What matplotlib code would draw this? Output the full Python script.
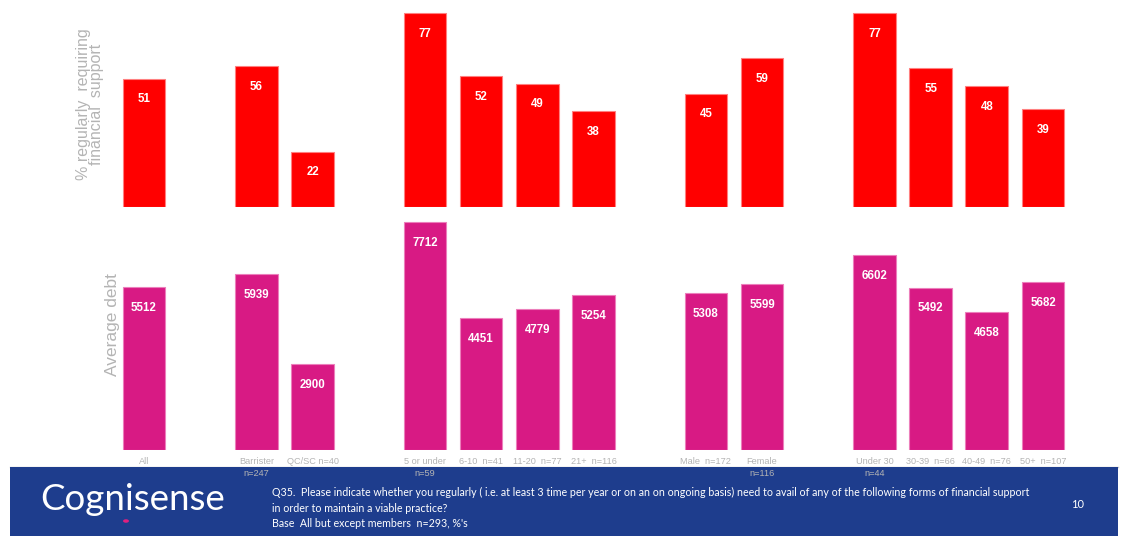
"""Financial support and average debt by member group."""

import matplotlib

matplotlib.use("Agg")
import matplotlib.pyplot as plt
from matplotlib.patches import Rectangle

categories = [
    "All", "Barrister\nn=247", "QC/SC n=40",
    "5 or under\nn=59", "6-10  n=41", "11-20  n=77", "21+  n=116",
    "Male  n=172", "Female\nn=116",
    "Under 30\nn=44", "30-39  n=66", "40-49  n=76", "50+  n=107",
]
# slot index of each bar; gaps separate the groups
positions = [0, 2, 3, 5, 6, 7, 8, 10, 11, 13, 14, 15, 16]
pct_support = [51, 56, 22, 77, 52, 49, 38, 45, 59, 77, 55, 48, 39]
avg_debt = [5512, 5939, 2900, 7712, 4451, 4779, 5254, 5308, 5599, 6602, 5492, 4658, 5682]

RED = "#ff0000"
MAGENTA = "#d81a84"
GREY = "#b4b4b4"
NAVY = "#1e3d8d"
ARIAL = ["Liberation Sans", "DejaVu Sans"]

W, H = 1122, 536
fig = plt.figure(figsize=(W / 100, H / 100), dpi=100)

x_left, x_right = 100, 1100
px_per_slot = (1043 - 144) / 16
xlim = (-(144 - x_left) / px_per_slot, 16 + (x_right - 1043) / px_per_slot)


def panel(top_px, bottom_px, base_px, top_val_px, top_val):
    scale = (base_px - top_val_px) / top_val
    ax = fig.add_axes([
        x_left / W, 1 - bottom_px / H,
        (x_right - x_left) / W, (bottom_px - top_px) / H,
    ])
    ax.set_xlim(*xlim)
    ax.set_ylim(0, (bottom_px - top_px) / scale)
    ax.axis("off")
    ax.set_zorder(5)
    return ax


def draw_bars(ax, values, color, edge):
    bars = ax.bar(positions, values, width=0.76, color=color,
                  edgecolor=edge, linewidth=0.8)
    for bar, v in zip(bars, values):
        ax.annotate(f"{v}", (bar.get_x() + bar.get_width() / 2, v),
                    xytext=(0, -15), textcoords="offset points",
                    ha="center", va="center", color="white",
                    fontsize=8.3, fontweight="bold", family=ARIAL)


ax_top = panel(5, 207, 207, 13, 77)
draw_bars(ax_top, pct_support, RED, "#ff8080")

ax_bot = panel(215, 450, 450, 222, 7712)
draw_bars(ax_bot, avg_debt, MAGENTA, "#ec7fbb")

for pos, label in zip(positions, categories):
    ax_bot.annotate(label, (pos, 0), xytext=(0, -5), textcoords="offset points",
                    ha="center", va="top", color=GREY, fontsize=6.6,
                    family=ARIAL, linespacing=1.45,
                    annotation_clip=False)

fig.text(90 / W, 1 - 104 / H, "% regularly  requiring\nfinancial  support",
         rotation=90, ha="center", va="center", color=GREY, fontsize=11.5,
         family=ARIAL, linespacing=0.9)
fig.text(112 / W, 1 - 325 / H, "Average debt", rotation=90,
         ha="center", va="center", color=GREY, fontsize=12.5, family=ARIAL)

# footer band
fig.patches.append(Rectangle((10 / W, 0), 1108 / W, 69 / H,
                             transform=fig.transFigure, facecolor=NAVY,
                             edgecolor="none", zorder=1))
fig.add_artist(plt.Line2D([10 / W, 1118 / W], [69.5 / H, 69.5 / H],
                          color="#c8c8c8", linewidth=1, zorder=1))

fig.text(40 / W, 1 - 499 / H, "Cognisense", color="white", fontsize=26.5,
         family="Lato", ha="left", va="center", zorder=3)
fig.patches.append(plt.Circle((126 / W, 1 - 521 / H), 2.2 / W,
                              transform=fig.transFigure, color="#e0207f",
                              zorder=3))

footer_lines = (
    "Q35.  Please indicate whether you regularly ( i.e. at least 3 time per year "
    "or on an on ongoing basis) need to avail of any of the following forms of "
    "financial support\n"
    "in order to maintain a viable practice?\n"
    "Base  All but except members  n=293, %'s"
)
fig.text(272 / W, 1 - 487 / H, footer_lines, color="white", fontsize=7.65,
         family="Lato", ha="left", va="top", linespacing=1.5, zorder=3)
fig.text(1078 / W, 1 - 504 / H, "10", color="white", fontsize=8,
         family="Lato", ha="center", va="center", zorder=3)

fig.savefig("out.png", dpi=100)
